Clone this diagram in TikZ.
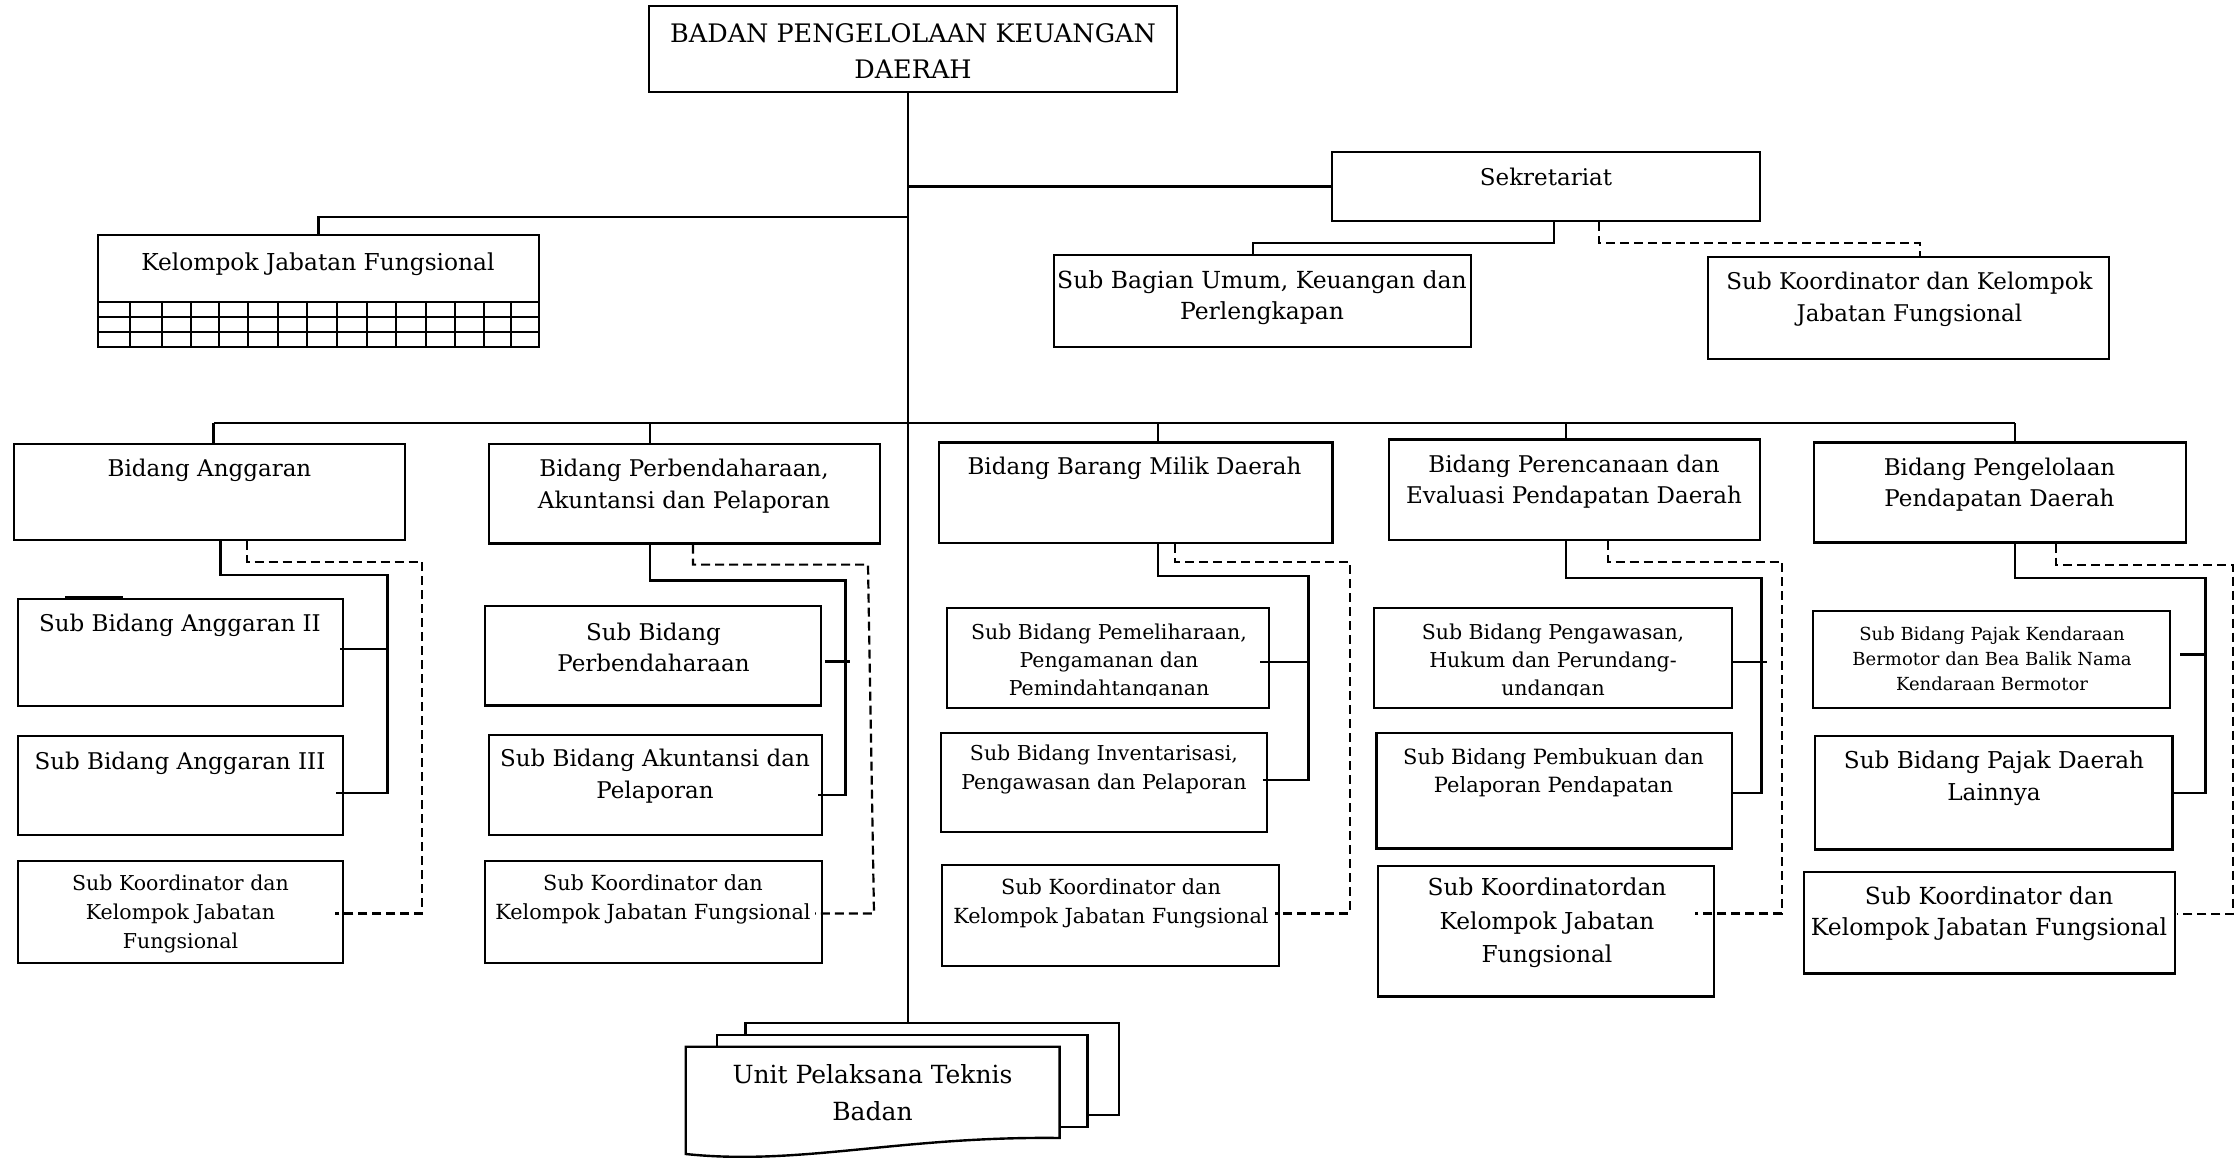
\documentclass[tikz,border=0pt]{standalone}
\usepackage{fontspec}
\setmainfont{DejaVu Serif}
\usetikzlibrary{fit}
\begin{document}
\begin{tikzpicture}[x=1pt,y=-1pt,
  bx/.style={draw, line width=2.4pt, inner sep=0pt, fill=white},
  ln/.style={line width=2.2pt},
  dl/.style={line width=2.2pt, dash pattern=on 9pt off 5pt},
  gl/.style={line width=2pt},
  tx/.style 2 args={font=\fontsize{#1}{#2}\selectfont, align=center, inner sep=0pt}
]
% canvas
\fill[white] (0,0) rectangle (2238,1158);
\useasboundingbox (0,0) rectangle (2238,1158);

% ---------- boxes ----------
\node[bx, fit={(649,6) (1177,92)}] (top) {};
\node[bx, fit={(1332,152) (1760,221)}] (sek) {};
\node[bx, fit={(98,235) (539,302)}] (kjf) {};
\node[bx, fit={(98,302) (539,347)}] (kjfg) {};
\node[bx, fit={(1054,255) (1471,347)}] (sbu) {};
\node[bx, fit={(1708,257) (2109,359)}] (sks) {};

\node[bx, fit={(14,443.7) (405,540)}] (bidA) {};
\node[bx, fit={(489,443.7) (880,543.5)}] (bidB) {};
\node[bx, fit={(939,442.5) (1332.6,542.8)}] (bidC) {};
\node[bx, fit={(1389,439.6) (1760,540)}] (bidD) {};
\node[bx, fit={(1814,442.5) (2186,542.4)}] (bidE) {};

\node[bx, fit={(18,599) (343,706)}] (A2) {};
\node[bx, fit={(18,736) (343,835)}] (A3) {};
\node[bx, fit={(18,861) (343,963)}] (Ak) {};
\node[bx, fit={(485,606) (821,705.6)}] (B1) {};
\node[bx, fit={(489,735) (822,835)}] (B2) {};
\node[bx, fit={(485,861) (822,963)}] (Bk) {};
\node[bx, fit={(947,608) (1269,708)}] (C1) {};
\node[bx, fit={(941,732.7) (1267,832)}] (C2) {};
\node[bx, fit={(942,865) (1279,966)}] (Ck) {};
\node[bx, fit={(1374,608) (1732,708)}] (D1) {};
\node[bx, fit={(1376.5,733) (1732,848.5)}] (D2) {};
\node[bx, fit={(1378,866) (1714,996.5)}] (Dk) {};
\node[bx, fit={(1813,611) (2170,708)}] (E1) {};
\node[bx, fit={(1814.7,736) (2172.5,849.5)}] (E2) {};
\node[bx, fit={(1804,872) (2175,973.4)}] (Ek) {};

% grid under the functional group box
\foreach \gy in {317,332} \draw[gl] (kjfg.west |- 0,\gy) -- (kjfg.east |- 0,\gy);
\foreach \gx in {130,161.5,190.5,219,248,278,307,337,366.6,395.7,425.5,454.6,483.7,511}
  \draw[gl] (kjfg.north -| \gx,0) -- (kjfg.south -| \gx,0);

% stacked unit sheets
\node[bx, fit={(745.4,1023) (1119,1115)}] (upt3) {};
\node[bx, fit={(716.7,1035) (1087.6,1127)}] (upt2) {};
\draw[line width=2.4pt, fill=white] (685.7,1046.7) -- (1059.6,1046.7) -- (1059.6,1138)
  .. controls (900,1136) and (800,1166) .. (685.7,1154) -- cycle;

% ---------- texts ----------
\node[tx={25.5}{36}] (top-t) at (913,51) {BADAN PENGELOLAAN KEUANGAN\\DAERAH};
\node[tx={23}{32}] (sek-t) at (1546,177) {Sekretariat};
\node[tx={23.3}{32}] (kjf-t) at (318,264) {Kelompok Jabatan Fungsional};
\node[tx={23.5}{31}] (sbu-t) at (1262,297.5) {Sub Bagian Umum, Keuangan dan\\Perlengkapan};
\node[tx={23}{32}] (sks-t) at (1909.5,299) {Sub Koordinator dan Kelompok\\Jabatan Fungsional};

\node[tx={23}{32}] (bidA-t) at (209.5,470) {Bidang Anggaran};
\node[tx={23}{32}] (bidB-t) at (684,486) {Bidang Perbendaharaan,\\Akuntansi dan Pelaporan};
\node[tx={23}{32}] (bidC-t) at (1134.5,468.4) {Bidang Barang Milik Daerah};
\node[tx={23}{31}] (bidD-t) at (1574,481.5) {Bidang Perencanaan dan\\Evaluasi Pendapatan Daerah};
\node[tx={23}{31}] (bidE-t) at (1999.5,484.5) {Bidang Pengelolaan\\Pendapatan Daerah};

\node[tx={23}{32}] (A2-t) at (180,625.7) {Sub Bidang Anggaran II};
\node[tx={23}{32}] (A3-t) at (180,763.7) {Sub Bidang Anggaran III};
\node[tx={20.5}{29}] (Ak-t) at (180.5,914) {Sub Koordinator dan\\Kelompok Jabatan\\Fungsional};
\node[tx={23}{31}] (B1-t) at (653.5,647.5) {Sub Bidang\\Perbendaharaan};
\node[tx={23}{32}] (B2-t) at (655,776) {Sub Bidang Akuntansi dan\\Pelaporan};
\node[tx={20.8}{29}] (Bk-t) at (653,899.5) {Sub Koordinator dan\\Kelompok Jabatan Fungsional};
\begin{scope}
  \clip (C1.north west) rectangle (1269,695.5);
  \node[tx={20.5}{28}] (C1-t) at (1109,662) {Sub Bidang Pemeliharaan,\\Pengamanan dan\\Pemindahtanganan};
\end{scope}
\node[tx={20.5}{28.5}] (C2-t) at (1104,769.5) {Sub Bidang Inventarisasi,\\Pengawasan dan Pelaporan};
\node[tx={20.8}{29}] (Ck-t) at (1111,903.5) {Sub Koordinator dan\\Kelompok Jabatan Fungsional};
\begin{scope}
  \clip (D1.north west) rectangle (1732,695.5);
  \node[tx={20.5}{28}] (D1-t) at (1553,662) {Sub Bidang Pengawasan,\\Hukum dan Perundang-\\undangan};
\end{scope}
\node[tx={21}{28}] (D2-t) at (1553.5,772.5) {Sub Bidang Pembukuan dan\\Pelaporan Pendapatan};
\node[tx={23.3}{33.5}] (Dk-t) at (1547,923) {Sub Koordinatordan\\Kelompok Jabatan\\Fungsional};
\node[tx={18}{25}] (E1-t) at (1992,659) {Sub Bidang Pajak Kendaraan\\Bermotor dan Bea Balik Nama\\Kendaraan Bermotor};
\node[tx={23.2}{32}] (E2-t) at (1994,778.5) {Sub Bidang Pajak Daerah\\Lainnya};
\node[tx={23.5}{31.5}] (Ek-t) at (1989,913.5) {Sub Koordinator dan\\Kelompok Jabatan Fungsional};
\node[tx={25}{36.7}] (upt-t) at (872.5,1093) {Unit Pelaksana Teknis\\Badan};

% ---------- connectors ----------
\coordinate (trunk) at (908,0);
\coordinate (bus) at (0,423);
\draw[ln] (top.south -| trunk) -- (upt3.north -| trunk);
\draw[ln] (sek.west -| trunk) -- (sek.west);
\draw[ln] (trunk |- 0,217) -| (kjf.north);
\draw[ln] (sek.south -| 1554,0) |- (1253,243) -- (sbu.north -| 1253,0);
\draw[dl] (sek.south -| 1599,0) |- (1920,243) -- (sks.north -| 1920,0);

% bus to the five divisions
\draw[ln] (bus -| 213.5,0) -- (bus -| 2015,0);
\draw[ln] (bus -| 213.5,0) -- (bidA.north -| 213.5,0);
\draw[ln] (bus -| 650,0) -- (bidB.north -| 650,0);
\draw[ln] (bus -| 1157.7,0) -- (bidC.north -| 1157.7,0);
\draw[ln] (bus -| 1565.6,0) -- (bidD.north -| 1565.6,0);
\draw[ln] (bus -| 2015,0) -- (bidE.north -| 2015,0);

% Bidang Anggaran
\draw[ln] (bidA.south -| 220.4,0) |- (387.5,574.6) -- (387.5,793) -- (336,793);
\draw[ln] (340,649) -- (387.5,649);
\draw[dl] (bidA.south -| 247,0) |- (422,561.7) |- (335,913.5);
\draw[ln] (65,597.5) -- (123,597.5);

% Bidang Perbendaharaan
\draw[ln] (bidB.south -| 650,0) |- (845.5,580.5) -- (845.5,795) -- (818,795);
\draw[ln] (825,661.5) -- (849.5,661.5);
\draw[dl] (bidB.south -| 693,0) |- (868,564.6) -- (874,913.5) -- (815,913.5);

% Bidang Barang Milik Daerah
\draw[ln] (bidC.south -| 1157.7,0) |- (1308.5,576) -- (1308.5,780) -- (1263,780);
\draw[ln] (1260,662) -- (1308.5,662);
\draw[dl] (bidC.south -| 1174.7,0) |- (1349.7,561.7) |- (1275,913.5);

% Bidang Perencanaan
\draw[ln] (bidD.south -| 1565.6,0) |- (1761.5,578) -- (1761.5,792.7) -- (D2.east |- 0,792.7);
\draw[ln] (D1.east |- 0,661.7) -- (1766.5,661.7);
\draw[dl] (bidD.south -| 1608,0) |- (1782,561.7) |- (1695,913.5);

% Bidang Pengelolaan
\draw[ln] (bidE.south -| 2015,0) |- (2205.5,578) -- (2205.5,793) -- (2173,793);
\draw[ln] (2180,654.5) -- (2205.5,654.5);
\draw[dl] (bidE.south -| 2056,0) |- (2233,564.6) |- (2177,914);
\end{tikzpicture}
\end{document}
